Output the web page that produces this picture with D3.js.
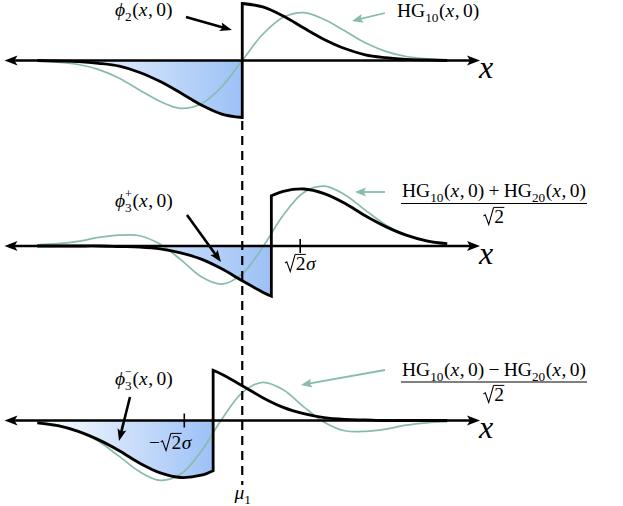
<!DOCTYPE html>
<html><head><meta charset="utf-8">
<script src="https://cdn.jsdelivr.net/npm/d3@7"></script>
<style>body{margin:0;background:#fff} svg{display:block} text{font-family:"Liberation Serif","DejaVu Serif",serif}</style>
</head><body><svg id="c" width="623" height="506"></svg>
<script>
// ---- data (x in units of sigma, relative to mu_1; y in units of the phi_2 jump) ----
const xGrid  = [-5,-4.5,-4,-3.5,-3,-2.5,-2,-1.5,-1,-0.5,0,0.5,1,1.5,2,2.5,3,3.5,4,4.5,5];
const hg10   = [-0.01,-0.03,-0.07,-0.16,-0.31,-0.52,-0.72,-0.84,-0.76,-0.46,0,0.46,0.76,0.84,0.72,0.52,0.31,0.16,0.07,0.03,0.01];
const hgSum  = [0.02,0.04,0.08,0.15,0.19,0.18,0.03,-0.24,-0.54,-0.67,-0.49,-0.02,0.54,0.94,1.05,0.90,0.63,0.37,0.19,0.08,0.03];
const hgDiff = [-0.03,-0.08,-0.19,-0.37,-0.63,-0.90,-1.05,-0.94,-0.54,0.02,0.49,0.67,0.54,0.24,-0.03,-0.18,-0.19,-0.15,-0.08,-0.04,-0.02];

const phi2LeftX  = [-5,-4.5,-4,-3.5,-3,-2.5,-2,-1.5,-1,-0.5,0];
const phi2LeftY  = [0,-0.01,-0.02,-0.05,-0.10,-0.21,-0.37,-0.57,-0.78,-0.94,-1.0];
const phi2RightX = [0,0.5,1,1.5,2,2.5,3,3.5,4,4.5,5];
const phi2RightY = [1.0,0.94,0.78,0.57,0.37,0.21,0.10,0.05,0.02,0.01,0];

const phi3pLeftX  = [-5,-4.5,-4,-3.5,-3,-2.5,-2,-1.5,-1,-0.5,0,0.5,0.71];
const phi3pLeftY  = [0,0,0,0,-0.01,-0.02,-0.05,-0.12,-0.23,-0.40,-0.61,-0.81,-0.88];
const phi3pRightX = [0.71,1,1.5,2,2.5,3,3.5,4,4.5,5];
const phi3pRightY = [0.88,0.96,1.0,0.92,0.75,0.53,0.34,0.19,0.09,0.04];

const phi3mLeftX  = [-5,-4.5,-4,-3.5,-3,-2.5,-2,-1.5,-1,-0.71];
const phi3mLeftY  = [-0.04,-0.09,-0.19,-0.34,-0.53,-0.75,-0.92,-1.0,-0.96,-0.88];
const phi3mRightX = [-0.71,-0.5,0,0.5,1,1.5,2,2.5,3,3.5,4,4.5,5];
const phi3mRightY = [0.88,0.81,0.61,0.40,0.23,0.12,0.05,0.02,0.01,0,0,0,0];

const tickPositions = [null, 1.414, -1.414];
const muPosition = 0;

// ---- layout ----
const axisYs = [60.5, 246, 420.5];
const svg = d3.select('#c');
const TEAL = '#88bbac';
const FS = 19.5;

const x = d3.scaleLinear().domain([-5.8, 5.8]).range([4.5, 480]);
const zip = (a, b) => a.map((v, i) => [v, b[i]]);

const panels = [
  {teal: hg10, left: zip(phi2LeftX, phi2LeftY), right: zip(phi2RightX, phi2RightY)},
  {teal: hgSum, left: zip(phi3pLeftX, phi3pLeftY), right: zip(phi3pRightX, phi3pRightY)},
  {teal: hgDiff, left: zip(phi3mLeftX, phi3mLeftY), right: zip(phi3mRightX, phi3mRightY)}
];

const defs = svg.append('defs');

function arrowHead(g, tx, ty, ang, len, hw, color, notch) {
  const c = Math.cos(ang), s = Math.sin(ang);
  const pt = (a, b) => [tx + a * c - b * s, ty + a * s + b * c];
  const p = [pt(0, 0), pt(-len, -hw), pt(-len + notch, 0), pt(-len, hw)];
  g.append('path').attr('d', 'M' + p.map(q => q.join(',')).join('L') + 'Z').attr('fill', color);
}
function arrow(g, x1, y1, x2, y2, color, w, len, hw) {
  const ang = Math.atan2(y2 - y1, x2 - x1);
  const ex = x2 - Math.cos(ang) * len * 0.7, ey = y2 - Math.sin(ang) * len * 0.7;
  g.append('line').attr('x1', x1).attr('y1', y1).attr('x2', ex).attr('y2', ey)
    .attr('stroke', color).attr('stroke-width', w);
  arrowHead(g, x2, y2, ang, len, hw, color, len * 0.2);
}

panels.forEach((p, i) => {
  const ay = axisYs[i];
  const y = d3.scaleLinear().domain([-1, 1]).range([ay + 57, ay - 57]);
  const g = svg.append('g');
  const curve = d3.curveCatmullRom.alpha(0.5);
  const line = d3.line().x(d => x(d[0])).y(d => y(d[1])).curve(curve);
  const area = d3.area().x(d => x(d[0])).y0(y(0)).y1(d => y(d[1])).curve(curve);

  const gid = 'grad' + i;
  const lg = defs.append('linearGradient').attr('id', gid).attr('x1', 0).attr('x2', 1).attr('y1', 0).attr('y2', 0);
  lg.append('stop').attr('offset', 0).attr('stop-color', '#ffffff');
  lg.append('stop').attr('offset', 1).attr('stop-color', '#9cc1f6');

  g.append('path').attr('d', area(p.left)).attr('fill', `url(#${gid})`);

  g.append('path').attr('d', line(zip(xGrid, p.teal))).attr('fill', 'none')
    .attr('stroke', TEAL).attr('stroke-width', 1.7);

  g.append('line').attr('x1', x(-5.8) + 8).attr('x2', x(5.8) - 8).attr('y1', ay).attr('y2', ay)
    .attr('stroke', '#000').attr('stroke-width', 2.6);
  arrowHead(g, x(-5.8), ay, Math.PI, 13, 5, '#000', 3);
  arrowHead(g, x(5.8), ay, 0, 13, 5, '#000', 3);

  if (tickPositions[i] !== null) {
    g.append('line').attr('x1', x(tickPositions[i])).attr('x2', x(tickPositions[i]))
      .attr('y1', ay - 7).attr('y2', ay + 7).attr('stroke', '#000').attr('stroke-width', 1.6);
  }

  const dPath = line(p.left) + line(p.right).replace(/^M/, 'L');
  g.append('path').attr('d', dPath).attr('fill', 'none').attr('stroke', '#000')
    .attr('stroke-width', 2.8).attr('stroke-linejoin', 'miter');

  g.append('text').attr('x', 479).attr('y', ay + 17.5)
    .attr('font-style', 'italic').attr('font-size', 32).text('x');
});

svg.append('line').attr('x1', x(muPosition)).attr('x2', x(muPosition)).attr('y1', 121).attr('y2', 485)
  .attr('stroke', '#000').attr('stroke-width', 2.2).attr('stroke-dasharray', '9,6');

// ---- math labels ----
function mathLabel(x0, y0, pieces, size, anchor) {
  const g = svg.append('g');
  let cx = 0;
  pieces.forEach(pc => {
    if (pc.gap) { cx += pc.gap * size; return; }
    if (pc.rad) {
      const s = size;
      g.append('path').attr('d', `M${cx},${-0.36*s} L${cx+0.09*s},${-0.42*s} L${cx+0.27*s},${0.08*s} L${cx+0.52*s},${-0.8*s}`)
        .attr('fill', 'none').attr('stroke', '#000').attr('stroke-width', 1.1);
      const t = g.append('text').attr('x', cx + 0.55 * s).attr('y', 0).attr('font-size', s).text(pc.rad);
      const w = t.node().getComputedTextLength();
      g.append('line').attr('x1', cx + 0.52 * s).attr('x2', cx + 0.57 * s + w).attr('y1', -0.8 * s).attr('y2', -0.8 * s)
        .attr('stroke', '#000').attr('stroke-width', 1);
      cx += 0.58 * s + w;
      return;
    }
    if (pc.sub !== undefined || pc.sup !== undefined) {
      let w = 0;
      if (pc.sub !== undefined) {
        const t = g.append('text').attr('x', cx).attr('y', 0.28 * size).attr('font-size', size * 0.68).text(pc.sub);
        w = Math.max(w, t.node().getComputedTextLength());
      }
      if (pc.sup !== undefined) {
        const t = g.append('text').attr('x', cx).attr('y', -0.45 * size).attr('font-size', size * 0.62).text(pc.sup);
        w = Math.max(w, t.node().getComputedTextLength());
      }
      cx += w + 0.03 * size;
      return;
    }
    const t = g.append('text').attr('x', cx).attr('y', 0).attr('font-size', size)
      .attr('font-style', pc.i ? 'italic' : 'normal').text(pc.t);
    cx += t.node().getComputedTextLength() + (pc.k || 0) * size;
  });
  const off = anchor === 'middle' ? -cx / 2 : anchor === 'end' ? -cx : 0;
  g.attr('transform', `translate(${x0 + off},${y0})`);
  return cx;
}
const argXY = [{t: '('}, {t: 'x', i: true, k: 0.03}, {t: ','}, {gap: 0.17}, {t: '0)'}];

mathLabel(115, 16, [{t: '\u03D5', i: true}, {sub: '2'}, ...argXY], FS, 'start');
mathLabel(397, 17, [{t: 'HG'}, {sub: '10'}, ...argXY], FS, 'start');
mathLabel(115, 207, [{t: '\u03D5', i: true}, {sub: '3', sup: '+'}, ...argXY], FS, 'start');
mathLabel(115, 385, [{t: '\u03D5', i: true}, {sub: '3', sup: '\u2212'}, ...argXY], FS, 'start');

function fraction(cxm, yNum, yBar, yDen, numPieces) {
  const w = mathLabel(cxm, yNum, numPieces, FS, 'middle');
  svg.append('line').attr('x1', cxm - w / 2 - 1).attr('x2', cxm + w / 2 + 1).attr('y1', yBar).attr('y2', yBar)
    .attr('stroke', '#000').attr('stroke-width', 1);
  mathLabel(cxm, yDen, [{rad: '2'}], FS, 'middle');
}
fraction(494, 197, 203.5, 223, [{t: 'HG'}, {sub: '10'}, ...argXY, {gap: 0.22}, {t: '+'}, {gap: 0.22}, {t: 'HG'}, {sub: '20'}, ...argXY]);
fraction(494, 376, 382, 401, [{t: 'HG'}, {sub: '10'}, ...argXY, {gap: 0.22}, {t: '\u2212'}, {gap: 0.22}, {t: 'HG'}, {sub: '20'}, ...argXY]);

mathLabel(285, 270, [{rad: '2'}, {t: '\u03C3', i: true}], FS, 'start');
mathLabel(149, 449, [{t: '\u2212'}, {gap: 0.04}, {rad: '2'}, {t: '\u03C3', i: true}], FS, 'start');
mathLabel(243, 499, [{t: '\u03BC', i: true}, {sub: '1'}], FS, 'middle');

const ag = svg.append('g');
arrow(ag, 186, 17, 232, 30, '#000', 2.6, 12, 4.5);
arrow(ag, 187, 215, 221, 262, '#000', 2.6, 12, 4.5);
arrow(ag, 130, 397, 119, 441, '#000', 2.6, 12, 4.5);
arrow(ag, 385, 13, 352, 21, TEAL, 1.8, 11, 4.5);
arrow(ag, 385, 192, 355, 192, TEAL, 1.8, 11, 4.5);
arrow(ag, 385, 370, 301, 385, TEAL, 1.8, 11, 4.5);
</script></body></html>
